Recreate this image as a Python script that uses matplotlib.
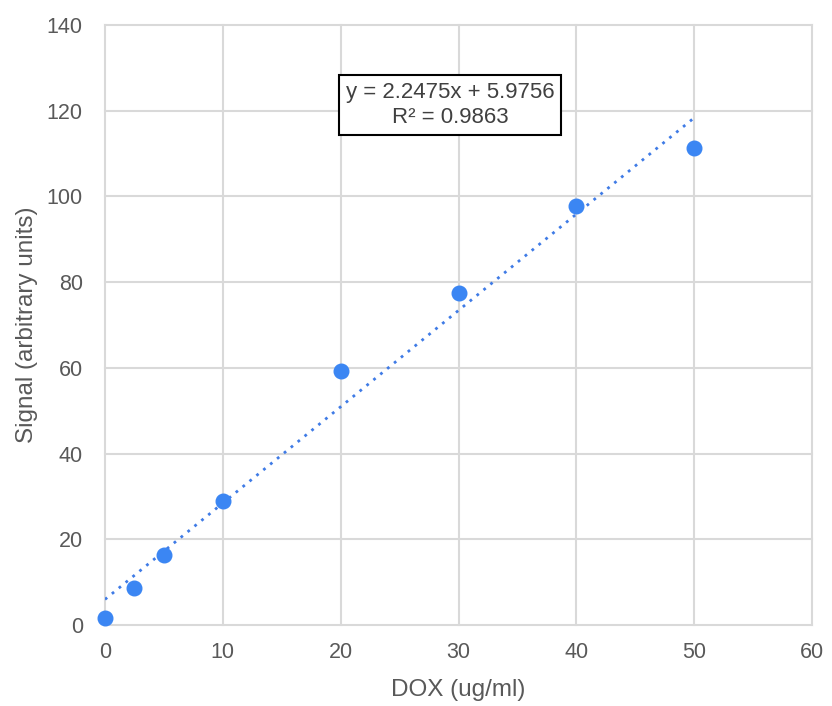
import matplotlib
matplotlib.use("Agg")
import matplotlib.pyplot as plt
import numpy as np

dose = [0, 2.5, 5, 10, 20, 30, 40, 50]
signal = [1.6, 8.6, 16.3, 28.9, 59.3, 77.5, 97.8, 111.3]
slope = 2.2475
intercept = 5.9756
r2 = 0.9863
xticks = [0, 10, 20, 30, 40, 50, 60]
yticks = [0, 20, 40, 60, 80, 100, 120, 140]

plt.rcParams['font.family'] = ['Liberation Sans', 'DejaVu Sans']

fig = plt.figure(figsize=(8.32, 7.06), dpi=100)
ax = fig.add_axes([105/832, 81/706, 707/832, 600/706])

ax.set_xlim(0, 60)
ax.set_ylim(0, 140)
ax.set_xticks(xticks)
ax.set_yticks(yticks)
ax.grid(True, color='#d9d9d9', linewidth=1.5)
ax.set_axisbelow(True)
for s in ax.spines.values():
    s.set_visible(False)
ax.tick_params(length=0, labelsize=15.5, labelcolor='#595959')
ax.tick_params(axis='x', pad=12)
ax.tick_params(axis='y', pad=16)
for gl in ax.get_xgridlines() + ax.get_ygridlines():
    gl.set_clip_on(False)

xt = np.array([dose[0], dose[-1]])
ax.plot(xt, slope * xt + intercept, linestyle=(0, (1, 2.2)), color='#3f7be6',
        linewidth=2.0, zorder=2)
ax.plot(dose, signal, 'o', color='#3b86f3', markersize=10.5, zorder=3, clip_on=False)

ax.text(0.4883, 0.8667, f"y = {slope}x + {intercept}\nR\u00b2 = {r2}",
        transform=ax.transAxes, ha='center', va='center', fontsize=16,
        color='#404040', linespacing=1.3,
        bbox=dict(boxstyle='square,pad=0.3', facecolor='white', edgecolor='black', linewidth=1.5))

ax.set_xlabel("DOX (ug/ml)", fontsize=17.5, color='#595959', labelpad=12)
ax.set_ylabel("Signal (arbitrary units)", fontsize=17.5, color='#595959', labelpad=6)

fig.savefig("out.png", dpi=100)
